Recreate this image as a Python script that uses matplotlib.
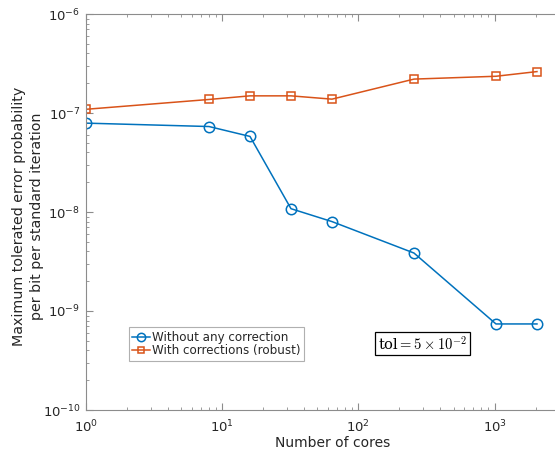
import numpy as np
import matplotlib
matplotlib.use('Agg')
import matplotlib.pyplot as plt
from matplotlib.ticker import LogLocator, NullFormatter

plt.rcParams['font.family'] = ['DejaVu Sans']
plt.rcParams['mathtext.fontset'] = 'dejavusans'

# data
cores = [1, 8, 16, 32, 64, 256, 1024, 2048]
no_corr = [7.9e-8, 7.3e-8, 5.8e-8, 1.08e-8, 8.0e-9, 3.85e-9, 7.4e-10, 7.4e-10]
robust = [1.09e-7, 1.37e-7, 1.49e-7, 1.49e-7, 1.38e-7, 2.2e-7, 2.35e-7, 2.62e-7]

blue = '#0072BD'
orange = '#D95319'
axcol = '#8c8c8c'
txtcol = '#262626'

fig = plt.figure(figsize=(5.55, 4.51), dpi=100)
ax = fig.add_axes([86 / 555, 1 - 410 / 451, 493 / 555, 396 / 451])

ax.plot(cores, no_corr, '-o', color=blue, lw=1.1, ms=7.5, mfc='none', mew=1.1,
        label='Without any correction')
ax.plot(cores, robust, '-s', color=orange, lw=1.1, ms=6, mfc='none', mew=1.1,
        label='With corrections (robust)')

ax.set_xscale('log')
ax.set_yscale('log')
ax.set_xlim(1, 10 ** 3.62)
ax.set_ylim(1e-10, 1e-6)

ax.xaxis.set_major_locator(LogLocator(base=10, numticks=10))
ax.xaxis.set_minor_locator(LogLocator(base=10, subs=np.arange(2, 10), numticks=20))
ax.xaxis.set_minor_formatter(NullFormatter())
ax.yaxis.set_major_locator(LogLocator(base=10, numticks=10))
ax.yaxis.set_minor_locator(LogLocator(base=10, subs=np.arange(2, 10), numticks=20))
ax.yaxis.set_minor_formatter(NullFormatter())

ax.tick_params(which='both', direction='in', top=True, right=False,
               color=axcol, labelcolor=txtcol, labelsize=9.5)
ax.tick_params(axis='y', pad=4)
ax.tick_params(axis='x', pad=6)
ax.tick_params(which='major', length=5)
ax.tick_params(which='minor', length=2.5)
for s in ax.spines.values():
    s.set_color(axcol)
    s.set_linewidth(0.8)

ax.set_xlabel('Number of cores', fontsize=10, color=txtcol, labelpad=1)
ax.set_ylabel('Maximum tolerated error probability\nper bit per standard iteration',
              fontsize=10.3, color=txtcol, linespacing=1.3)
ax.yaxis.set_label_coords(-0.086, 0.49)

leg = ax.legend(loc='lower left', bbox_to_anchor=(0.087, 0.124), borderaxespad=0,
                fontsize=8.6, handlelength=1.5, handletextpad=0.15, labelspacing=0.05,
                borderpad=0.3, fancybox=False, framealpha=1, edgecolor='#b0b0b0',
                markerscale=0.8)
leg.get_frame().set_linewidth(0.8)
for t in leg.get_texts():
    t.set_color(txtcol)

ax.text(0.682, 0.168, r'$\mathregular{tol}=5\times10^{-2}$', transform=ax.transAxes,
        ha='center', va='center', fontsize=10.5, family='serif', math_fontfamily='cm',
        bbox=dict(boxstyle='square,pad=0.2', fc='white', ec='black', lw=0.9))

fig.savefig('out.png', dpi=100)
